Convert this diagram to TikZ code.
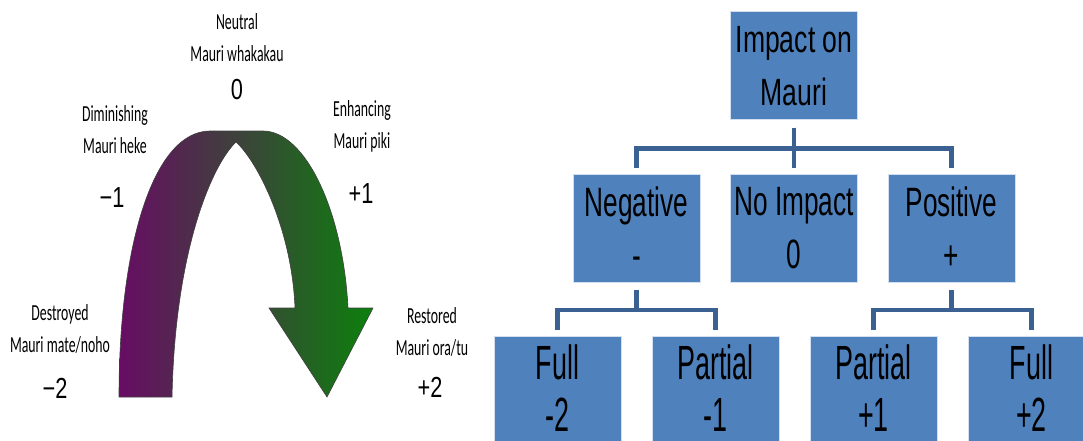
\documentclass[tikz,border=0pt]{standalone}
\usepackage{fontspec}
\setmainfont{Liberation Sans}
\newfontfamily\labelfont[FakeStretch=0.6]{Carlito}
\newfontfamily\numfont[FakeStretch=0.75]{Liberation Sans}
\newfontfamily\topfont[FakeStretch=0.7]{Liberation Sans}
\newfontfamily\midfont[FakeStretch=0.64]{Liberation Sans}
\newfontfamily\lowfont[FakeStretch=0.56]{Liberation Sans}

\definecolor{mauriblue}{RGB}{79,129,189}
\definecolor{linkblue}{RGB}{58,97,145}
\definecolor{mauripurple}{RGB}{104,12,100}
\definecolor{maurigrey}{RGB}{84,72,84}
\definecolor{maurigreen}{RGB}{12,128,12}

\tikzset{
  tag/.style={align=center, inner sep=0pt, anchor=base, font=\labelfont\fontsize{23}{32}\selectfont},
  score/.style={inner sep=0pt, anchor=base, font=\numfont\fontsize{29}{32}\selectfont},
  impactbox/.style={fill=mauriblue, draw=white!75!mauriblue, line width=1pt, minimum width=127pt, minimum height=108pt, inner sep=0pt, align=center},
  topbox/.style={impactbox, font=\topfont\fontsize{38}{53}\selectfont},
  midbox/.style={impactbox, font=\midfont\fontsize{41}{53}\selectfont},
  lowbox/.style={impactbox, minimum height=105pt, font=\lowfont\fontsize{48}{52}\selectfont},
  link/.style={draw=linkblue, line width=4.5pt, shorten <=7pt, shorten >=6pt}
}

\begin{document}
\begin{tikzpicture}[x=1pt,y=-1pt]
      \useasboundingbox (0,0) rectangle (1083,441);
      \clip (0,0) rectangle (1083,441);

      % curved arrow
      \draw[black!75, line width=0.6pt, left color=mauripurple, middle color=maurigrey, right color=maurigreen]
            (119,397) .. controls (119,240) and (155,131) .. (210,131) -- (263,131)
            .. controls (305,131) and (343,210) .. (348,308) -- (373,308) -- (327,397) -- (269,308) -- (295,308)
            .. controls (292,230) and (258,162) .. (236,142)
            .. controls (212,165) and (175,250) .. (172,397) -- cycle;
      \draw[black!75, line width=0.6pt] (236,142) .. controls (228,136) .. (214,131);

      \node[tag] (neutral) at (237,62) {Neutral\\Mauri whakakau};
      \node[score] (zero) at (237,100) {0};
      \node[tag] (dimin) at (115,153) {Diminishing\\Mauri heke};
      \node[score] (minusone) at (112,207) {−1};
      \node[tag] (enhance) at (362,148) {Enhancing\\Mauri piki};
      \node[score] (plusone) at (361,203) {+1};
      \node[tag] (destroy) at (60,352) {Destroyed\\Mauri mate/noho};
      \node[score] (minustwo) at (55,398) {−2};
      \node[tag] (restore) at (432,355) {Restored\\Mauri ora/tu};
      \node[score] (plustwo) at (430,397) {+2};

      % tree
      \node[topbox] (impact) at (794,66) {Impact on\\Mauri};
      \node[midbox] (negative) at (636.5,228.5) {Negative\\-};
      \node[midbox] (noimpact) at (794,228.5) {No Impact\\0};
      \node[midbox] (positive) at (951.5,228.5) {Positive\\+};
      \node[lowbox] (negfull) at (557.5,388.5) {Full\\-2};
      \node[lowbox] (negpart) at (715.5,388.5) {Partial\\-1};
      \node[lowbox] (pospart) at (873.5,388.5) {Partial\\+1};
      \node[lowbox] (posfull) at (1031.5,388.5) {Full\\+2};

      \draw[link] (impact.south) -- (noimpact.north);
      \draw[link] (impact.south) -- ++(0,28) -| (negative.north);
      \draw[link] (impact.south) -- ++(0,28) -| (positive.north);
      \draw[link] (negative.south) -- ++(0,27) -| (negfull.north);
      \draw[link] (negative.south) -- ++(0,27) -| (negpart.north);
      \draw[link] (positive.south) -- ++(0,27) -| (pospart.north);
      \draw[link] (positive.south) -- ++(0,27) -| (posfull.north);
\end{tikzpicture}
\end{document}
